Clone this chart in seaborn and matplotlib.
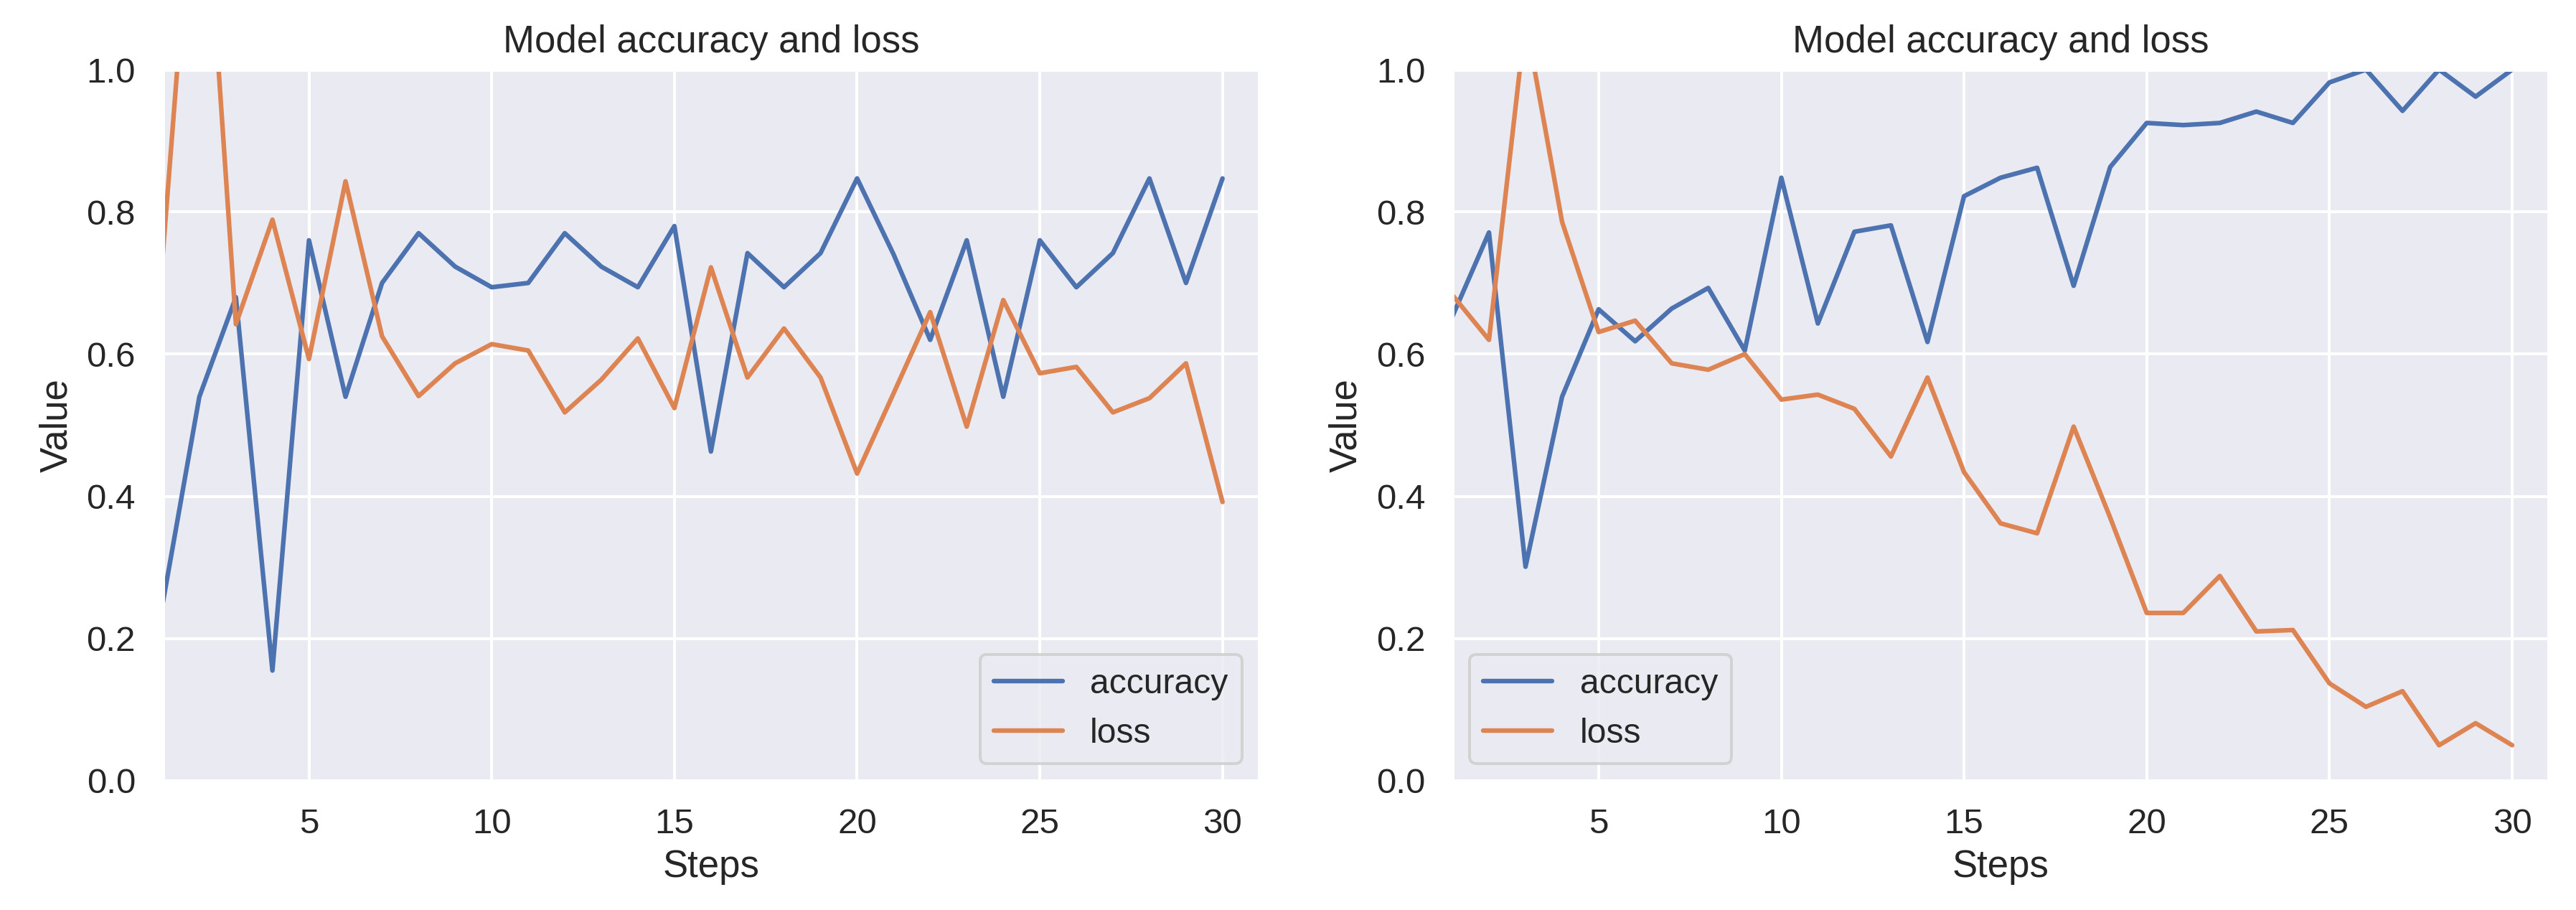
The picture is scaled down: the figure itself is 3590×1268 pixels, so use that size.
import matplotlib
matplotlib.use("Agg")
import matplotlib.pyplot as plt
import seaborn as sns
import pandas as pd

steps = list(range(1, 31))

left_accuracy = [0.25, 0.54, 0.68, 0.155, 0.76, 0.54, 0.70, 0.77, 0.723, 0.694,
                 0.70, 0.77, 0.723, 0.694, 0.78, 0.463, 0.742, 0.694, 0.742, 0.847,
                 0.74, 0.62, 0.76, 0.54, 0.76, 0.694, 0.742, 0.847, 0.70, 0.847]
left_loss = [0.74, 1.40, 0.642, 0.789, 0.593, 0.843, 0.625, 0.541, 0.587, 0.614,
             0.605, 0.518, 0.564, 0.622, 0.524, 0.722, 0.567, 0.636, 0.567, 0.432,
             0.545, 0.659, 0.498, 0.676, 0.573, 0.582, 0.518, 0.538, 0.587, 0.392]

right_accuracy = [0.653, 0.771, 0.301, 0.54, 0.663, 0.618, 0.664, 0.693, 0.605, 0.848,
                  0.643, 0.772, 0.781, 0.617, 0.822, 0.848, 0.862, 0.696, 0.863, 0.925,
                  0.922, 0.925, 0.941, 0.925, 0.982, 1.0, 0.942, 1.0, 0.962, 1.0]
right_loss = [0.683, 0.62, 1.07, 0.786, 0.631, 0.647, 0.587, 0.578, 0.60, 0.536,
              0.543, 0.523, 0.456, 0.567, 0.434, 0.362, 0.348, 0.498, 0.37, 0.236,
              0.236, 0.288, 0.21, 0.212, 0.137, 0.104, 0.126, 0.05, 0.081, 0.05]

series_names = ["accuracy", "loss"]
title_text = "Model accuracy and loss"
x_label = "Steps"
y_label = "Value"

sns.set_theme(style="darkgrid")
plt.rcParams["font.family"] = ["Liberation Sans", "DejaVu Sans"]

DPI = 288
fig, axes = plt.subplots(1, 2, figsize=(3590 / DPI, 1268 / DPI), dpi=DPI)
fig.subplots_adjust(left=0.0632, right=0.9894, bottom=0.142, top=0.9235, wspace=0.1764)

panels = [
    (left_accuracy, left_loss, "lower right"),
    (right_accuracy, right_loss, "lower left"),
]

for ax, (acc, loss, loc) in zip(axes, panels):
    df = pd.DataFrame({
        "Steps": steps * 2,
        "Value": acc + loss,
        "metric": [series_names[0]] * len(steps) + [series_names[1]] * len(steps),
    })
    sns.lineplot(data=df, x="Steps", y="Value", hue="metric", ax=ax, linewidth=1.6)
    ax.set_xlim(1, 31)
    ax.set_ylim(0, 1)
    ax.set_title(title_text, fontsize=13.2)
    ax.set_xlabel(x_label, fontsize=13.2, labelpad=3)
    ax.set_ylabel(y_label, fontsize=13.2)
    ax.tick_params(labelsize=12.3)
    handles, labels = ax.get_legend_handles_labels()
    ax.legend(handles, labels, loc=loc, fontsize=12)

fig.savefig("out.png", dpi=DPI)
